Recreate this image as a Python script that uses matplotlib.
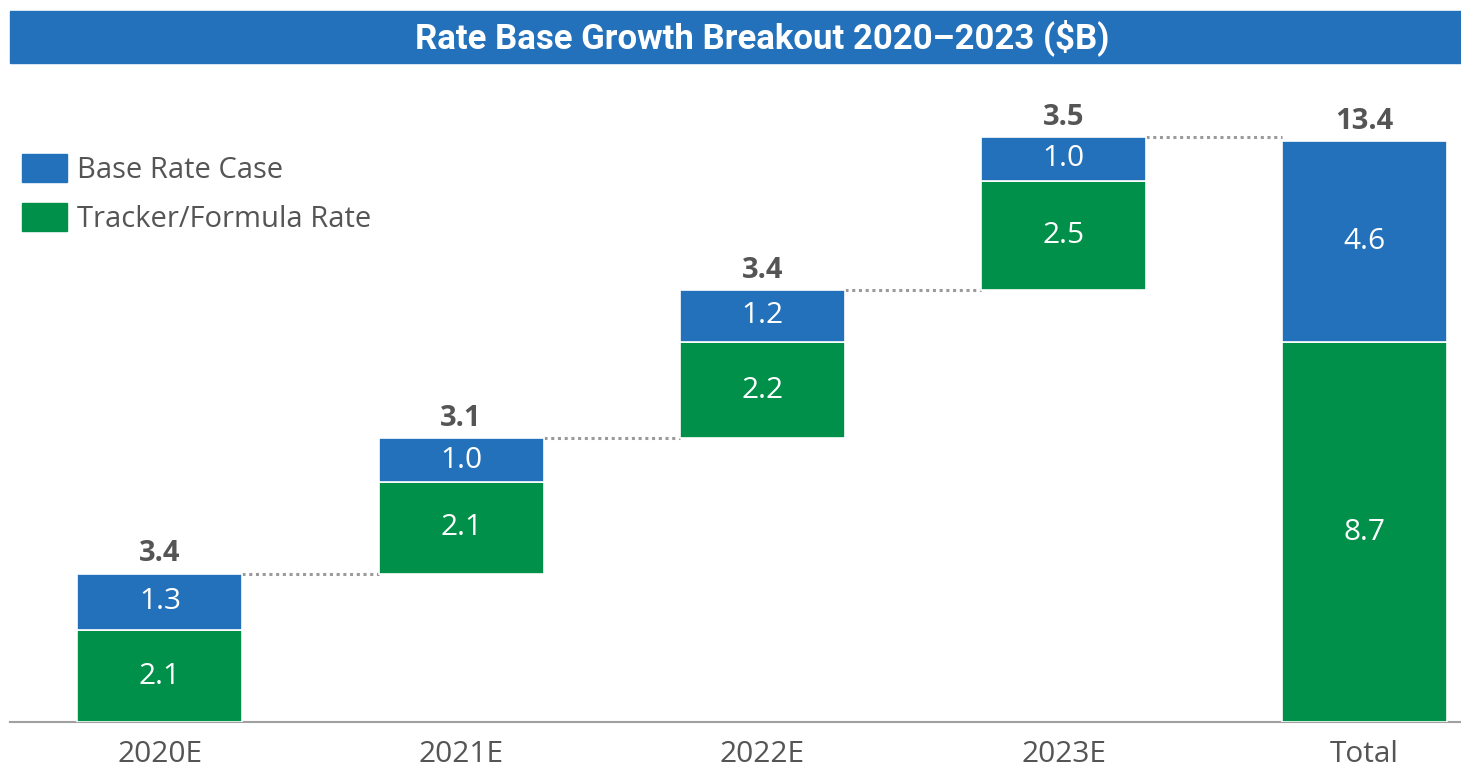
import matplotlib
matplotlib.use("Agg")
import matplotlib.pyplot as plt
from matplotlib.patches import Rectangle, Patch

# Rate base growth components, $B
categories = ["2020E", "2021E", "2022E", "2023E", "Total"]
tracker_formula = [2.1, 2.1, 2.2, 2.5, 8.7]
base_rate_case = [1.3, 1.0, 1.2, 1.0, 4.6]
totals_label = ["3.4", "3.1", "3.4", "3.5", "13.4"]

BLUE = "#2371BA"
GREEN = "#00904A"
GRAY_TXT = "#555555"
FONT = ["Open Sans", "DejaVu Sans"]

W, H = 1461, 769
fig = plt.figure(figsize=(W / 100, H / 100), dpi=100)

# title banner
fig.patches.append(Rectangle((10 / W, 1 - 63 / H), 1 - 10 / W, 52 / H,
                             transform=fig.transFigure, color=BLUE, zorder=0))
fig.text(0.5 + 32 / W, 1 - 38 / H, "Rate Base Growth Breakout 2020\u20132023 ($B)",
         ha="center", va="center", color="white", fontsize=25,
         fontweight="bold", family=["Roboto", "DejaVu Sans"])

# axes: baseline at y=722px
ax_bottom = 1 - 722 / H
ax_top = 1 - 80 / H
ax = fig.add_axes([10 / W, ax_bottom, 1 - 10 / W, ax_top - ax_bottom])
px_per_unit = 43.66
ax.set_ylim(0, (722 - 80) / px_per_unit)
ax.set_xlim(-0.498, 4.32)

x = list(range(len(categories)))
width = 0.548

# waterfall offsets: each year starts where the previous ended; total starts at 0
bottoms = []
running = 0.0
for i in range(len(categories)):
    if categories[i] == "Total":
        bottoms.append(0.0)
    else:
        bottoms.append(running)
        running += tracker_formula[i] + base_rate_case[i]

ax.bar(x, tracker_formula, width, bottom=bottoms, color=GREEN,
       edgecolor="white", linewidth=1.2, zorder=3, label="Tracker/Formula Rate")
blue_bottoms = [b + g for b, g in zip(bottoms, tracker_formula)]
ax.bar(x, base_rate_case, width, bottom=blue_bottoms, color=BLUE,
       edgecolor="white", linewidth=1.2, zorder=3, label="Base Rate Case")

tops = [b + v for b, v in zip(blue_bottoms, base_rate_case)]

# segment values
for i in x:
    ax.text(i, bottoms[i] + tracker_formula[i] / 2, f"{tracker_formula[i]:.1f}",
            ha="center", va="center", color="white", fontsize=21.5, family=FONT, zorder=4)
    ax.text(i, blue_bottoms[i] + base_rate_case[i] / 2, f"{base_rate_case[i]:.1f}",
            ha="center", va="center", color="white", fontsize=21.5, family=FONT, zorder=4)
    ax.text(i, tops[i] + 0.12, totals_label[i], ha="center", va="bottom",
            color=GRAY_TXT, fontsize=21, fontweight="bold", family=FONT, zorder=4)

# dotted connectors
for i in range(len(categories) - 1):
    ax.plot([i + width / 2, i + 1 - width / 2], [tops[i], tops[i]],
            linestyle=(0, (1, 1.2)), color="#9a9a9a", linewidth=2.2, zorder=2)

# axes styling
for s in ["top", "right", "left"]:
    ax.spines[s].set_visible(False)
ax.spines["bottom"].set_color("#a0a0a0")
ax.spines["bottom"].set_linewidth(1.5)
ax.set_yticks([])
ax.set_xticks(x)
ax.set_xticklabels(categories, fontsize=21.5, color=GRAY_TXT, family=FONT)
ax.tick_params(axis="x", length=0, pad=13)
ax.patch.set_alpha(0)

# legend
handles = [Patch(color=BLUE, label="Base Rate Case"),
           Patch(color=GREEN, label="Tracker/Formula Rate")]
leg = fig.legend(handles=handles, loc="upper left",
                 bbox_to_anchor=(10 / W, 1 - 142 / H), frameon=False,
                 prop={"family": FONT, "size": 21}, handlelength=1.55,
                 handleheight=1.1, handletextpad=0.35, labelspacing=0.62,
                 borderaxespad=0)
for t in leg.get_texts():
    t.set_color(GRAY_TXT)

fig.savefig("out.png", dpi=100)
